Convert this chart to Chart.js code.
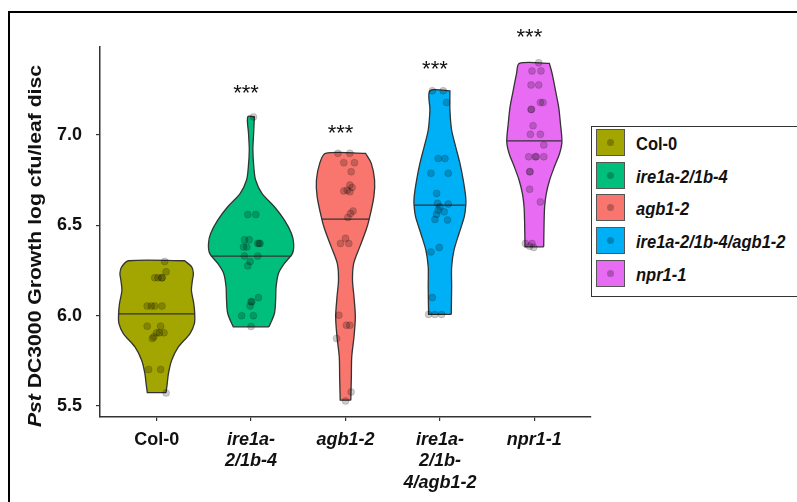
<!DOCTYPE html>
<html>
<head>
<meta charset="utf-8">
<title>Pst DC3000 growth</title>
<script src="https://cdn.jsdelivr.net/npm/chart.js@4.4.1/dist/chart.umd.min.js"></script>
<style>
    html, body { margin: 0; padding: 0; background: #fff; overflow: hidden; }
    #wrap { position: relative; width: 797px; height: 502px; overflow: hidden; }
    #frame { position: absolute; left: 8px; top: 11px; width: 900px; height: 600px; border: 2px solid #000; }
    #chartGrowth { position: absolute; left: 0; top: 0; }
    #legend { position: absolute; left: 591px; top: 126px; width: 260px; height: 169px; border: 1.5px solid #333; background: #fff; font: bold 16.5px "Liberation Sans", Arial, sans-serif; color: #111; }
    .key { position: absolute; left: 4px; width: 27px; height: 25px; border: 1.5px solid #555; }
    .key i { position: absolute; left: 10px; top: 9px; width: 7px; height: 7px; border-radius: 50%; background: rgba(0, 0, 0, 0.25); }
    .lbl { position: absolute; left: 44px; height: 28px; line-height: 28px; white-space: nowrap; transform: scaleY(1.1); transform-origin: left center; }
</style>
</head>
<body>
<div id="wrap">
    <div id="frame"></div>
    <canvas id="chartGrowth" width="797" height="502"></canvas>
    <div id="legend"></div>
</div>
<script>
// categories / tick labels
const genotypes = ['Col-0', 'ire1a-2/1b-4', 'agb1-2', 'ire1a-2/1b-4/agb1-2', 'npr1-1'];
const tickLabels = [['Col-0'], ['ire1a-', '2/1b-4'], ['agb1-2'], ['ire1a-', '2/1b-', '4/agb1-2'], ['npr1-1']];
const yTicks = [5.5, 6.0, 6.5, 7.0];

// single leaf disc values (log cfu) + horizontal jitter
const col0Values = [6.30, 6.243, 6.21, 6.21, 6.21, 6.21, 6.053, 6.053, 6.053, 6.053, 5.942, 5.942, 5.905, 5.905, 5.905, 5.883, 5.874, 5.702, 5.702, 5.572];
const col0Jitter = [0.085, 0.10, -0.02, 0.014, 0.056, 0.056, -0.10, -0.056, -0.02, 0.056, -0.10, 0.042, 0.0, 0.03, 0.077, -0.03, -0.045, -0.085, 0.042, 0.10];

const ireValues = [7.10, 6.56, 6.56, 6.42, 6.42, 6.40, 6.40, 6.40, 6.38, 6.38, 6.33, 6.33, 6.30, 6.276, 6.10, 6.077, 6.077, 6.054, 6.00, 6.00, 5.94];
const ireJitter = [0.025, -0.035, 0.05, -0.07, -0.02, 0.07, 0.095, 0.085, -0.08, -0.045, -0.07, 0.07, -0.01, -0.035, 0.078, 0.007, 0.0, -0.01, -0.10, 0.025, 0.0];

const agbValues = [6.899, 6.899, 6.847, 6.847, 6.797, 6.723, 6.71, 6.695, 6.69, 6.686, 6.579, 6.566, 6.544, 6.428, 6.40, 6.40, 6.003, 5.947, 5.947, 5.874, 5.578, 5.528];
const agbJitter = [-0.08, 0.046, -0.018, 0.095, 0.06, 0.046, 0.07, 0.018, -0.018, 0.046, 0.08, 0.053, 0.025, 0.0, -0.053, 0.035, -0.07, 0.01, 0.046, -0.095, 0.06, 0.0];

const tripleValues = [7.245, 7.245, 7.18, 6.87, 6.87, 6.788, 6.788, 6.677, 6.622, 6.618, 6.603, 6.584, 6.575, 6.562, 6.533, 6.529, 6.378, 6.353, 6.10, 6.007, 6.007, 6.007];
const tripleJitter = [-0.08, 0.035, 0.07, -0.018, 0.053, -0.095, 0.088, -0.035, -0.025, 0.088, 0.0, -0.018, 0.046, -0.035, -0.053, 0.08, -0.007, -0.095, -0.08, -0.12, -0.053, 0.018];

const nprValues = [7.40, 7.355, 7.355, 7.277, 7.277, 7.18, 7.18, 7.142, 7.142, 7.052, 7.004, 7.004, 6.945, 6.88, 6.88, 6.88, 6.88, 6.797, 6.797, 6.70, 6.63, 6.40, 6.40, 6.385, 6.378];
const nprJitter = [0.046, -0.025, 0.07, -0.035, 0.046, 0.064, 0.092, -0.035, -0.03, -0.014, -0.042, 0.064, 0.10, -0.06, 0.01, 0.02, 0.10, -0.05, -0.045, -0.05, 0.064, -0.095, -0.025, -0.05, -0.007];

// violin outlines: levels (log cfu) and half width (category units)
const col0Levels = [5.574, 5.62, 5.68, 5.753, 5.827, 5.901, 5.957, 6.012, 6.068, 6.141, 6.20, 6.234, 6.27, 6.304];
const col0Widths = [0.099, 0.111, 0.125, 0.159, 0.230, 0.353, 0.400, 0.403, 0.393, 0.368, 0.380, 0.389, 0.371, 0.297];

const ireLevels = [5.938, 6.012, 6.086, 6.160, 6.234, 6.289, 6.345, 6.400, 6.455, 6.529, 6.603, 6.677, 6.751, 6.824, 6.917, 7.009, 7.101];
const ireWidths = [0.189, 0.247, 0.260, 0.265, 0.290, 0.353, 0.438, 0.451, 0.428, 0.353, 0.247, 0.115, 0.048, 0.029, 0.019, 0.027, 0.035];

const agbLevels = [5.532, 5.661, 5.772, 5.883, 5.993, 6.104, 6.197, 6.289, 6.381, 6.474, 6.535, 6.658, 6.751, 6.843, 6.899];
const agbWidths = [0.056, 0.062, 0.066, 0.090, 0.104, 0.090, 0.074, 0.087, 0.151, 0.218, 0.251, 0.300, 0.308, 0.273, 0.212];

const tripleLevels = [6.007, 6.160, 6.270, 6.363, 6.455, 6.548, 6.612, 6.658, 6.751, 6.843, 6.935, 7.028, 7.139, 7.245];
const tripleWidths = [0.120, 0.124, 0.124, 0.149, 0.202, 0.258, 0.274, 0.273, 0.247, 0.212, 0.167, 0.124, 0.106, 0.106];

const nprLevels = [6.381, 6.511, 6.603, 6.677, 6.751, 6.824, 6.899, 6.963, 7.065, 7.157, 7.249, 7.342, 7.397];
const nprWidths = [0.099, 0.103, 0.109, 0.127, 0.162, 0.212, 0.268, 0.292, 0.276, 0.257, 0.223, 0.188, 0.159];

const medians = [6.01, 6.33, 6.535, 6.612, 6.968];
// where the *** marks sit (null = no mark)
const starLevels = [null, 7.262, 7.04, 7.397, 7.576];

const colors = ['#A3A500', '#00BF7D', '#F8766D', '#00B0F6', '#E76BF3'];
const FONT = '"Liberation Sans", Arial, Helvetica, sans-serif';

const allValues = [col0Values, ireValues, agbValues, tripleValues, nprValues];
const allJitter = [col0Jitter, ireJitter, agbJitter, tripleJitter, nprJitter];
const allLevels = [col0Levels, ireLevels, agbLevels, tripleLevels, nprLevels];
const allWidths = [col0Widths, ireWidths, agbWidths, tripleWidths, nprWidths];

// half width of a violin at some level (linear between read levels)
function widthAt(levels, widths, y) {
    for (let k = 0; k < levels.length - 1; k++) {
        if (y >= levels[k] && y <= levels[k + 1]) {
            const f = (y - levels[k]) / (levels[k + 1] - levels[k]);
            return widths[k] + f * (widths[k + 1] - widths[k]);
        }
    }
    return widths[widths.length - 1];
}

// closed outline: right side going up, left side coming down, corners doubled so they stay sharp
function violinOutline(i) {
    const lv = allLevels[i], wd = allWidths[i];
    const n = lv.length;
    const pts = [];
    pts.push({ x: i + wd[0], y: lv[0] });
    for (let k = 0; k < n; k++) pts.push({ x: i + wd[k], y: lv[k] });
    pts.push({ x: i + wd[n - 1], y: lv[n - 1] });
    for (let k = n - 1; k >= 0; k--) pts.push({ x: i - wd[k], y: lv[k] });
    pts.push({ x: i - wd[0], y: lv[0] });
    pts.push({ x: i + wd[0], y: lv[0] });
    return pts;
}

function buildLegend() {
    const box = document.getElementById('legend');
    genotypes.forEach(function (name, i) {
        const top = 2 + i * 32.7;
        const key = document.createElement('div');
        key.className = 'key';
        key.style.top = top + 'px';
        key.style.background = colors[i];
        key.appendChild(document.createElement('i'));
        box.appendChild(key);
        const lbl = document.createElement('div');
        lbl.className = 'lbl';
        lbl.style.top = top + 'px';
        lbl.style.fontStyle = i === 0 ? 'normal' : 'italic';
        lbl.textContent = name;
        box.appendChild(lbl);
    });
}

// y axis title, "Pst" in italics (stretched a little along its length, like the original)
const yTitlePlugin = {
    id: 'yTitle',
    afterDraw(chart) {
        const c = chart.ctx;
        const italic = 'italic bold 19px ' + FONT;
        const plain = 'bold 19px ' + FONT;
        const rest = ' DC3000 Growth log cfu/leaf disc';
        c.save();
        c.font = italic;
        const w1 = c.measureText('Pst').width;
        c.font = plain;
        const w2 = c.measureText(rest).width;
        c.translate(41, 246);
        c.rotate(-Math.PI / 2);
        c.scale(362 / (w1 + w2), 1);
        c.fillStyle = '#111';
        c.textBaseline = 'alphabetic';
        c.font = italic;
        c.fillText('Pst', -(w1 + w2) / 2, 0);
        c.font = plain;
        c.fillText(rest, -(w1 + w2) / 2 + w1, 0);
        c.restore();
    }
};

// significance stars
const starsPlugin = {
    id: 'stars',
    afterDatasetsDraw(chart) {
        const c = chart.ctx;
        const xs = chart.scales.x, ys = chart.scales.y;
        c.save();
        c.font = '22px ' + FONT;
        c.fillStyle = '#111';
        c.textAlign = 'center';
        c.textBaseline = 'alphabetic';
        starLevels.forEach(function (lv, i) {
            if (lv === null) return;
            c.fillText('***', xs.getPixelForValue(i) - 5, ys.getPixelForValue(lv) + 12.5);
        });
        c.restore();
    }
};

function loadChart() {
    const ctx = document.getElementById('chartGrowth');
    const datasets = [];

    genotypes.forEach(function (name, i) {
        // violin body
        datasets.push({
            label: name,
            data: violinOutline(i),
            showLine: true,
            fill: 'shape',
            backgroundColor: colors[i],
            borderColor: '#333',
            borderWidth: 1.3,
            tension: 0.3,
            pointRadius: 0,
            order: 3
        });
        // median line
        const mw = widthAt(allLevels[i], allWidths[i], medians[i]);
        datasets.push({
            label: name + ' median',
            data: [{ x: i - mw, y: medians[i] }, { x: i + mw, y: medians[i] }],
            showLine: true,
            fill: false,
            borderColor: '#333',
            borderWidth: 1.3,
            pointRadius: 0,
            order: 2
        });
        // jittered points
        datasets.push({
            label: name + ' points',
            data: allValues[i].map((v, k) => ({ x: i + allJitter[i][k], y: v })),
            showLine: false,
            pointRadius: 3.5,
            pointBackgroundColor: 'rgba(0, 0, 0, 0.2)',
            pointBorderColor: 'rgba(0, 0, 0, 0.14)',
            pointBorderWidth: 1,
            order: 1
        });
    });

    new Chart(ctx, {
        type: 'scatter',
        data: { datasets: datasets },
        options: {
            responsive: false,
            animation: false,
            events: [],
            layout: { padding: { top: 47, right: 206, bottom: 0, left: 0 } },
            plugins: {
                legend: { display: false },
                tooltip: { enabled: false }
            },
            scales: {
                x: {
                    type: 'linear',
                    min: -0.6,
                    max: 4.6,
                    afterBuildTicks: (s) => { s.ticks = genotypes.map((g, i) => ({ value: i })); },
                    afterFit: (s) => { s.height = 85; },
                    border: { display: true, color: '#333', width: 1.5 },
                    grid: { drawOnChartArea: false, drawTicks: true, tickLength: 4, color: '#333', lineWidth: 1.2 },
                    ticks: {
                        autoSkip: false,
                        maxRotation: 0,
                        padding: 8,
                        color: '#111',
                        font: (c) => ({ family: FONT, size: 18, weight: 'bold', lineHeight: 1.2, style: c.index === 0 ? 'normal' : 'italic' }),
                        callback: (value) => tickLabels[value]
                    }
                },
                y: {
                    type: 'linear',
                    min: 5.439,
                    max: 7.4875,
                    afterBuildTicks: (s) => { s.ticks = yTicks.map(v => ({ value: v })); },
                    afterFit: (s) => { s.width = 100; },
                    border: { display: true, color: '#333', width: 1.5 },
                    grid: { drawOnChartArea: false, drawTicks: true, tickLength: 4, color: '#333', lineWidth: 1.2 },
                    ticks: {
                        padding: 14,
                        color: '#111',
                        font: { family: FONT, size: 18, weight: 'bold' },
                        callback: (value) => Number(value).toFixed(1)
                    }
                }
            }
        },
        plugins: [yTitlePlugin, starsPlugin]
    });
}

buildLegend();
loadChart();
</script>
</body>
</html>
